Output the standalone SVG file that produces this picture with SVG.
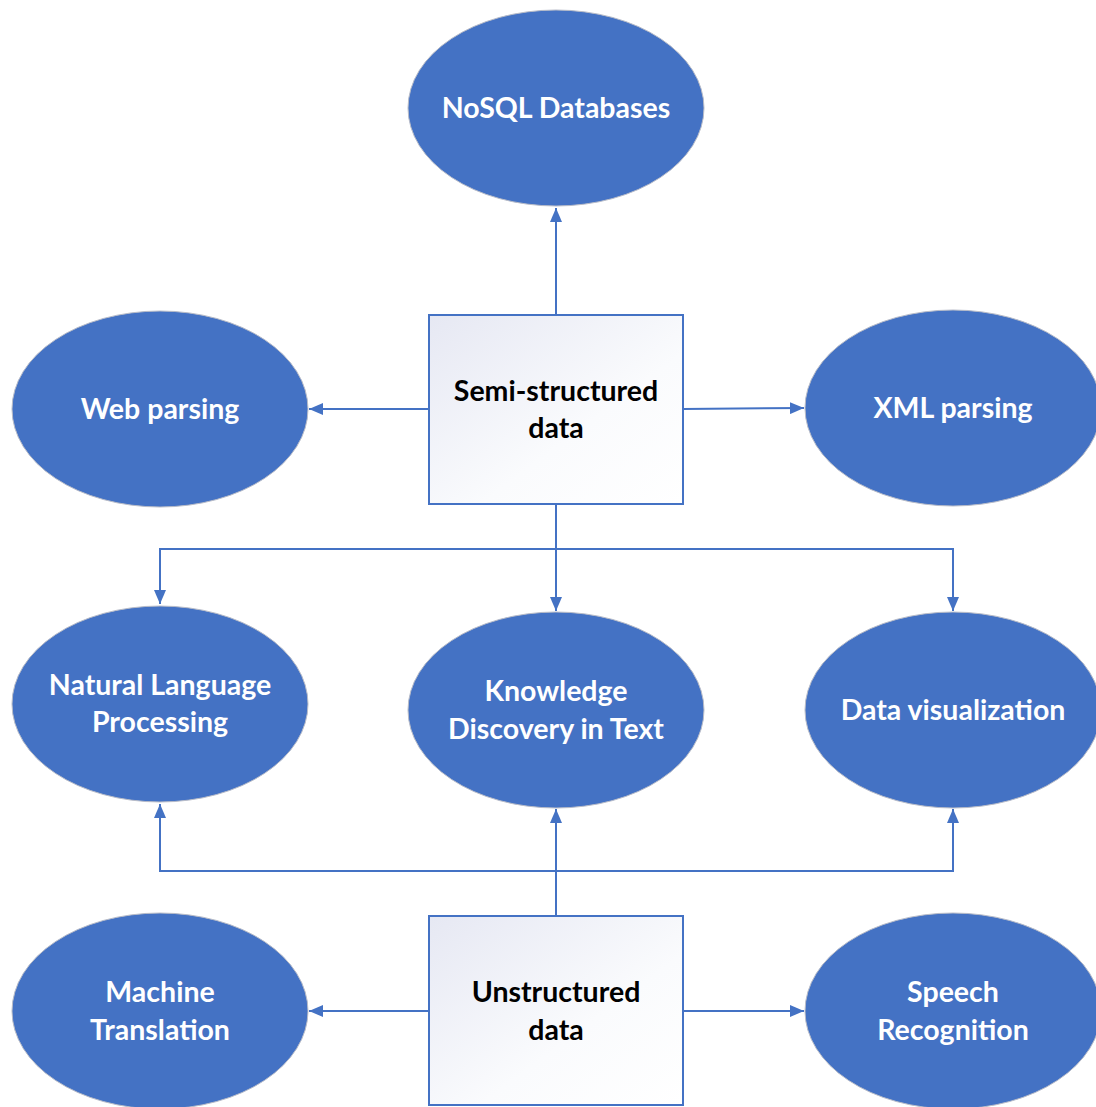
<svg xmlns="http://www.w3.org/2000/svg" width="1096" height="1107" viewBox="0 0 1096 1107">
<style>
.ell{fill:#4472C4;stroke:#b8bcc8;stroke-width:1}
.box{fill:url(#g);stroke:#4472C4;stroke-width:2}
.wt{fill:#fff;font-family:Lato,"Open Sans",sans-serif;font-weight:bold;font-size:28.5px;text-anchor:middle}
.bt{fill:#000;font-family:Lato,"Open Sans",sans-serif;font-weight:bold;font-size:28.5px;text-anchor:middle}
.c{fill:none;stroke:#4472C4;stroke-width:2}
</style>
<defs>
<linearGradient id="g" x1="0" y1="0" x2="1" y2="1">
<stop offset="0" stop-color="#e6e8f3"/>
<stop offset="0.6" stop-color="#fafbfd"/>
<stop offset="1" stop-color="#ffffff"/>
</linearGradient>
<marker id="ah" viewBox="0 0 14 12" refX="14" refY="6" markerWidth="14" markerHeight="12" orient="auto" markerUnits="userSpaceOnUse">
<path d="M0,0 L14,6 L0,12 z" fill="#4472C4"/>
</marker>
</defs>
<g id="connectors">
<path class="c" d="M556,315 V208" marker-end="url(#ah)"/>
<path class="c" d="M429,409 H309" marker-end="url(#ah)"/>
<path class="c" d="M683,409 L804,408" marker-end="url(#ah)"/>
<path class="c" d="M556,504 V611" marker-end="url(#ah)"/>
<path class="c" d="M556,549 H160 V604" marker-end="url(#ah)"/>
<path class="c" d="M556,549 H953 V611" marker-end="url(#ah)"/>
<path class="c" d="M556,916 V809" marker-end="url(#ah)"/>
<path class="c" d="M556,871 H160 V804" marker-end="url(#ah)"/>
<path class="c" d="M556,871 H953 V809" marker-end="url(#ah)"/>
<path class="c" d="M429,1011 H309" marker-end="url(#ah)"/>
<path class="c" d="M683,1011 H804" marker-end="url(#ah)"/>
</g>
<g id="nosql"><ellipse class="ell" cx="556" cy="108" rx="148" ry="98"/><text class="wt" x="556" y="118">NoSQL Databases</text></g>
<g id="web"><ellipse class="ell" cx="160" cy="409" rx="148" ry="98"/><text class="wt" x="160" y="419">Web parsing</text></g>
<g id="xml"><ellipse class="ell" cx="953" cy="408" rx="148" ry="98"/><text class="wt" x="953" y="418">XML parsing</text></g>
<g id="semi"><rect class="box" x="429" y="315" width="254" height="189"/><text class="bt" x="556" y="401">Semi-structured</text><text class="bt" x="556" y="438">data</text></g>
<g id="nlp"><ellipse class="ell" cx="160" cy="704" rx="148" ry="98"/><text class="wt" x="160" y="695">Natural Language</text><text class="wt" x="160" y="732">Processing</text></g>
<g id="kdt"><ellipse class="ell" cx="556" cy="710" rx="148" ry="98"/><text class="wt" x="556" y="701">Knowledge</text><text class="wt" x="556" y="739">Discovery in Text</text></g>
<g id="dataviz"><ellipse class="ell" cx="953" cy="710" rx="148" ry="98"/><text class="wt" x="953" y="720">Data visualization</text></g>
<g id="mt"><ellipse class="ell" cx="160" cy="1011" rx="148" ry="98"/><text class="wt" x="160" y="1002">Machine</text><text class="wt" x="160" y="1040">Translation</text></g>
<g id="unstructured"><rect class="box" x="429" y="916" width="254" height="189"/><text class="bt" x="556" y="1002">Unstructured</text><text class="bt" x="556" y="1040">data</text></g>
<g id="speech"><ellipse class="ell" cx="953" cy="1011" rx="148" ry="98"/><text class="wt" x="953" y="1002">Speech</text><text class="wt" x="953" y="1040">Recognition</text></g>
</svg>
